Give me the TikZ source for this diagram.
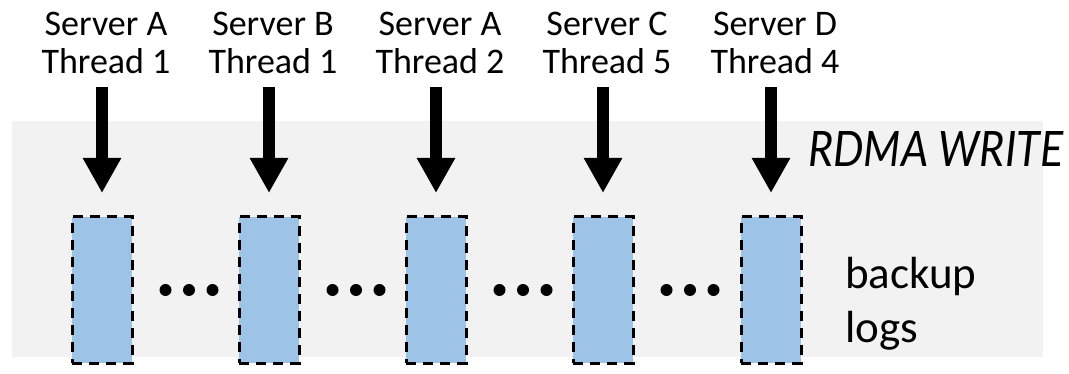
\documentclass[tikz,border=0pt]{standalone}
\usepackage{fontspec}
\setmainfont{Carlito}
\newfontfamily\latofont{Lato}
\usetikzlibrary{arrows.meta}
\definecolor{panelgray}{HTML}{F2F2F2}
\definecolor{logblue}{HTML}{9DC3E6}
\tikzset{
  logbox/.style={draw=black, fill=logblue, dash pattern=on 10pt off 7pt, line width=3pt,
    minimum width=60pt, minimum height=146pt, inner sep=0pt},
  writearrow/.style={line width=11.5pt, -{Triangle[length=35pt,width=36pt]}},
  srclabel/.style={font=\fontsize{36}{40}\selectfont, anchor=base, inner sep=0pt},
  sidelabel/.style={font=\fontsize{45}{50}\selectfont, anchor=base west, inner sep=0pt},
  dot/.style={circle, fill=black, minimum size=12pt, inner sep=0pt}
}
\begin{document}
\begin{tikzpicture}[x=1pt, y=-1pt]
  \useasboundingbox (0,0) rectangle (1069,374);
  % memory region of the backup
  \fill[panelgray] (12,121) rectangle (1043,357);

  % log buffers, one per writer
  \foreach \i/\x in {1/102, 2/269, 3/436, 4/603, 5/771} {
    \node[logbox] (log\i) at (\x,290) {};
    \coordinate (src\i) at (\x,87);
  }

  % ellipses between neighbouring buffers
  \foreach \i/\m in {1/189, 2/356, 3/523, 4/690} {
    \node[dot] (d\i a) at (\m-23.5,290) {};
    \node[dot] (d\i b) at (\m,290) {};
    \node[dot] (d\i c) at (\m+23.5,290) {};
  }

  % writer labels
  \foreach \i/\x/\srv/\thr in {1/106/A/1, 2/273/B/1, 3/440/A/2, 4/607/C/5, 5/775/D/4} {
    \node[srclabel] (srv\i) at (\x,36) {Server \srv};
    \node[srclabel] (thr\i) at (\x,74) {Thread \thr};
  }

  % one-sided writes into the buffers
  \foreach \i in {1,...,5} {
    \draw[writearrow] (src\i) -- (log\i.north |- 0,193);
  }

  \node[anchor=base west, inner sep=0pt] (rdma) at (808,167)
    {\resizebox{255pt}{35pt}{\latofont\itshape RDMA WRITE}};

  \node[sidelabel] (backup) at (845,289) {backup};
  \node[sidelabel] (logs) at (845,342) {logs};
\end{tikzpicture}
\end{document}
